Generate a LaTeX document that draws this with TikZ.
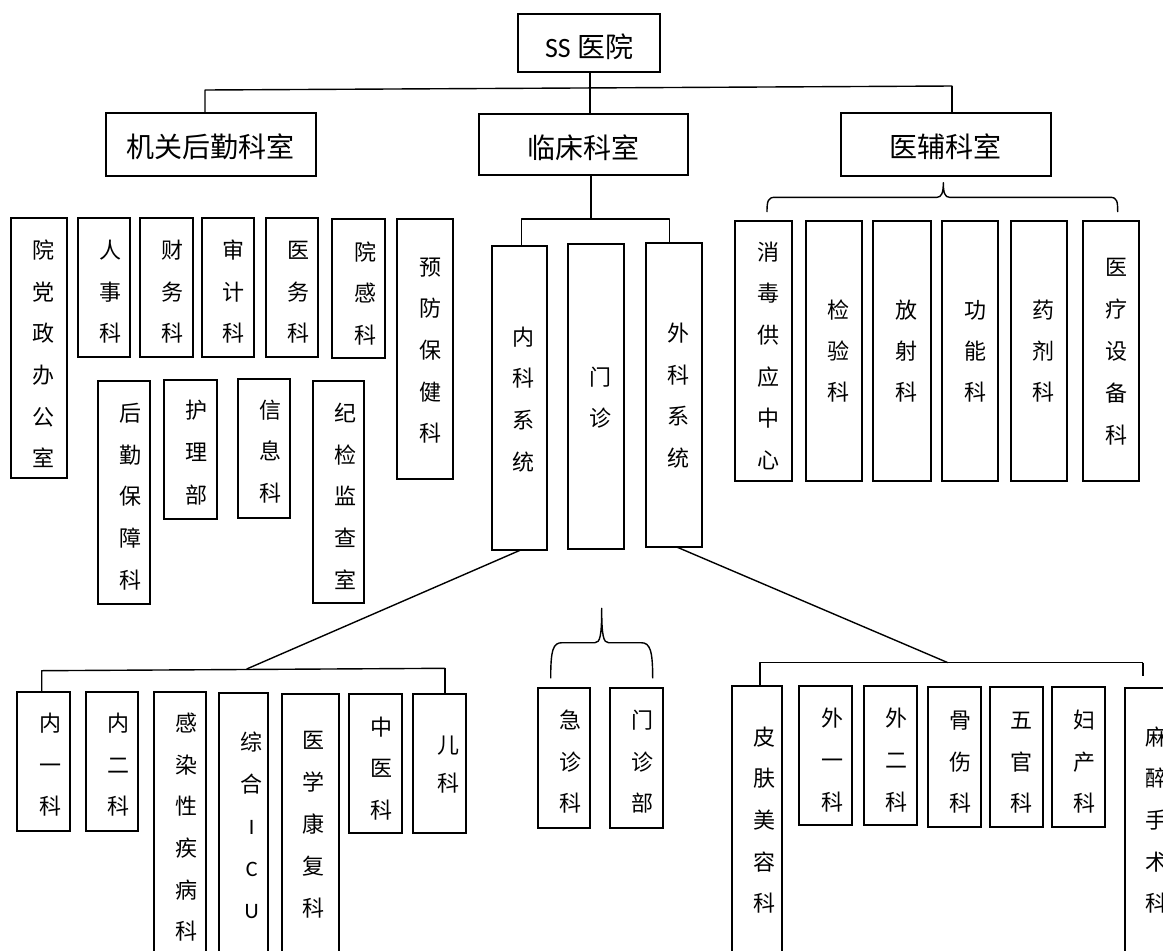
\documentclass[tikz,border=0pt]{standalone}
\usepackage{fontspec}
\setmainfont{Carlito}
\newfontfamily\cjk{Noto Sans CJK SC}
\tikzset{
  boxst/.style={draw, line width=2.6pt, inner sep=0pt, outer sep=0pt},
  chr/.style={font=\cjk\fontsize{22}{22}\selectfont, inner sep=0pt, text height=19.4pt, text depth=2.6pt},
  ttl/.style={font=\cjk\fontsize{28}{28}\selectfont, inner sep=0pt, text height=24.6pt, text depth=3.4pt},
  conn/.style={line width=1.4pt, line join=round},
  thickconn/.style={line width=2.4pt},
}
% name, x1, y1, x2, y2, text x, first char y, pitch, chars
\newcommand\colbox[9]{%
  \node[boxst, minimum width={#4-#2}, minimum height={#5-#3}] (#1) at ({(#2+#4)/2},{(#3+#5)/2}) {};
  \foreach \c [count=\i] in {#9} {\node[chr] (#1-\i) at (#6,{#7+(\i-1)*#8}) {\c};}
}
\begin{document}
\begin{tikzpicture}[x=1pt,y=-1pt]
\useasboundingbox (0,0) rectangle (1163,951);
\clip (0,0) rectangle (1163,951);

% ---- top level ----
\node[boxst, minimum width=142, minimum height=58] (ss) at (589,43) {};
\node[ttl] (ss-t) at (589,47) {{\rmfamily\fontsize{28}{28}\selectfont SS} 医院};
\node[boxst, minimum width=210, minimum height=63] (jg) at (210.8,144.5) {};
\node[ttl] (jg-t) at (210.8,147.3) {机关后勤科室};
\node[boxst, minimum width=209, minimum height=61] (lc) at (583.6,144.5) {};
\node[ttl] (lc-t) at (583.6,148) {临床科室};
\node[boxst, minimum width=210, minimum height=63] (yf) at (945.8,144.5) {};
\node[ttl] (yf-t) at (945.8,147.3) {医辅科室};

\coordinate (rootx) at (590,88);
\coordinate (barL) at (205,90);
\coordinate (barR) at (952.3,86);
\draw[thickconn] (ss.south -| rootx) -- (lc.north -| rootx);
\draw[conn] (jg.north -| barL) -- (barL) -- (barR);
\draw[line width=2pt] (barR) -- (yf.north -| barR);

% ---- administrative ----
\colbox{a1}{11}{218}{67}{478}{43}{250}{41.7}{院,党,政,办,公,室}
\colbox{a2}{78}{218}{130}{357}{110}{250}{41.7}{人,事,科}
\colbox{a3}{140}{218}{193}{357}{172.7}{250}{41.7}{财,务,科}
\colbox{a4}{202}{218}{254}{357}{233}{250}{41.7}{审,计,科}
\colbox{a5}{266}{218}{318}{357}{298}{250}{41.7}{医,务,科}
\colbox{a6}{332}{219}{385}{358}{365}{251.7}{41.7}{院,感,科}
\colbox{a7}{397}{219}{453}{479}{430}{266.7}{41.7}{预,防,保,健,科}
\colbox{a8}{98}{381}{150}{604}{130}{413}{41.7}{后,勤,保,障,科}
\colbox{a9}{164}{380}{217}{519}{196.7}{410}{42.5}{护,理,部}
\colbox{a10}{238}{379}{290}{518}{270}{410}{41.5}{信,息,科}
\colbox{a11}{313}{381}{364}{603}{345}{413}{41.7}{纪,检,监,查,室}

% ---- clinical ----
\colbox{nk}{492}{246}{547}{550}{523.3}{336.7}{41.7}{内,科,系,统}
\colbox{mz}{568}{244}{624}{549}{600.7}{376.7}{41.7}{门,诊}
\colbox{wk}{646}{243}{702}{547}{678.3}{333}{41.7}{外,科,系,统}

\coordinate (lcb) at (591,219);
\coordinate (lcbL) at (521.2,219);
\coordinate (lcbR) at (669.5,219);
\draw[conn] (lc.south -| lcb) -- (lcb);
\draw[conn] (nk.north -| lcbL) -- (lcbL) -- (lcbR) -- (wk.north -| lcbR);

% ---- auxiliary ----
\colbox{y1}{735}{221}{792}{481}{768}{251.7}{41.7}{消,毒,供,应,中,心}
\colbox{y2}{806}{221}{862}{481}{838}{310}{40.8}{检,验,科}
\colbox{y3}{873}{221}{931}{481}{906}{310}{40.8}{放,射,科}
\colbox{y4}{942}{221}{998}{481}{975}{310}{40.8}{功,能,科}
\colbox{y5}{1011}{221}{1067}{481}{1043.3}{310}{40.8}{药,剂,科}
\colbox{y6}{1083}{221}{1139}{481}{1116}{266.7}{42}{医,疗,设,备,科}

\coordinate (ytip) at (943.3,182.7);
\draw[conn] (767,212) .. controls (767,201) and (768,197.3) .. (775,197.3) -- (937,197.3)
  .. controls (941.5,197.3) and (943.3,193) .. (ytip)
  .. controls (943.3,193) and (945,197.3) .. (949.5,197.3) -- (1110,197.3)
  .. controls (1117,197.3) and (1117.7,201) .. (1117.7,212);

% ---- internal medicine ----
\colbox{n1}{17}{692}{70}{831}{50}{723}{41.7}{内,一,科}
\colbox{n2}{86}{692}{138}{831}{118.3}{723}{41.7}{内,二,科}
\colbox{n3}{154}{692}{206}{965}{186.7}{723}{41.7}{感,染,性,疾,病,科}
\colbox{n4}{219}{693}{268}{965}{251.7}{741.7}{42}{综,合,{\rmfamily I},{\rmfamily C},{\rmfamily U}}
\colbox{n5}{282}{694}{339}{965}{313.3}{740}{42}{医,学,康,复,科}
\colbox{n6}{349}{694}{402}{833}{381.7}{726.7}{41.7}{中,医,科}
\colbox{n7}{413}{694}{466}{833}{448.3}{745}{38.3}{儿,科}

\coordinate (nkbar) at (246.7,669);
\coordinate (nbL) at (41.7,670.7);
\coordinate (nbR) at (445,668.3);
\draw[conn] (nk.south -| 520.7,0) -- (nkbar);
\draw[conn] (n1.north -| nbL) -- (nbL) -- (nbR);
\draw[line width=2.2pt] (nbR) -- (n7.north -| nbR);

% ---- outpatient ----
\colbox{m1}{538}{688}{590}{828}{570.7}{720}{41.7}{急,诊,科}
\colbox{m2}{610}{688}{663}{828}{642.7}{720}{41.7}{门,诊,部}

\coordinate (mtip) at (601.7,608.3);
\draw[conn] (550.7,678.3) .. controls (550.7,650) and (553,642.7) .. (562,642.7) -- (595,642.7)
  .. controls (600,642.7) and (601.7,636) .. (mtip)
  .. controls (601.7,636) and (603.5,642.7) .. (608.5,642.7) -- (641,642.7)
  .. controls (650,642.7) and (652.7,650) .. (652.7,678.3);

% ---- surgery ----
\colbox{w1}{732}{686}{782}{965}{764.3}{736.7}{41.7}{皮,肤,美,容,科}
\colbox{w2}{799}{686}{852}{825}{832.3}{718.3}{41.7}{外,一,科}
\colbox{w3}{864}{686}{917}{825}{896.7}{718.3}{41.7}{外,二,科}
\colbox{w4}{928}{687}{981}{827}{960.7}{720}{41.7}{骨,伤,科}
\colbox{w5}{990}{687}{1043}{827}{1021.7}{720}{41.7}{五,官,科}
\colbox{w6}{1052}{687}{1105}{827}{1084.3}{720}{41.7}{妇,产,科}
\colbox{w7}{1125}{688}{1190}{965}{1156}{736.7}{41.7}{麻,醉,手,术,科}

\coordinate (wkbar) at (947.7,662.6);
\coordinate (wbL) at (760,662.7);
\coordinate (wbR) at (1143.3,662.7);
\coordinate (wbRend) at (1143.3,676);
\draw[conn] (wk.south -| 676.7,0) -- (wkbar);
\draw[conn] (w1.north -| wbL) -- (wbL) -- (wbR);
\draw[line width=2.2pt] (wbR) -- (wbRend);
\end{tikzpicture}
\end{document}
